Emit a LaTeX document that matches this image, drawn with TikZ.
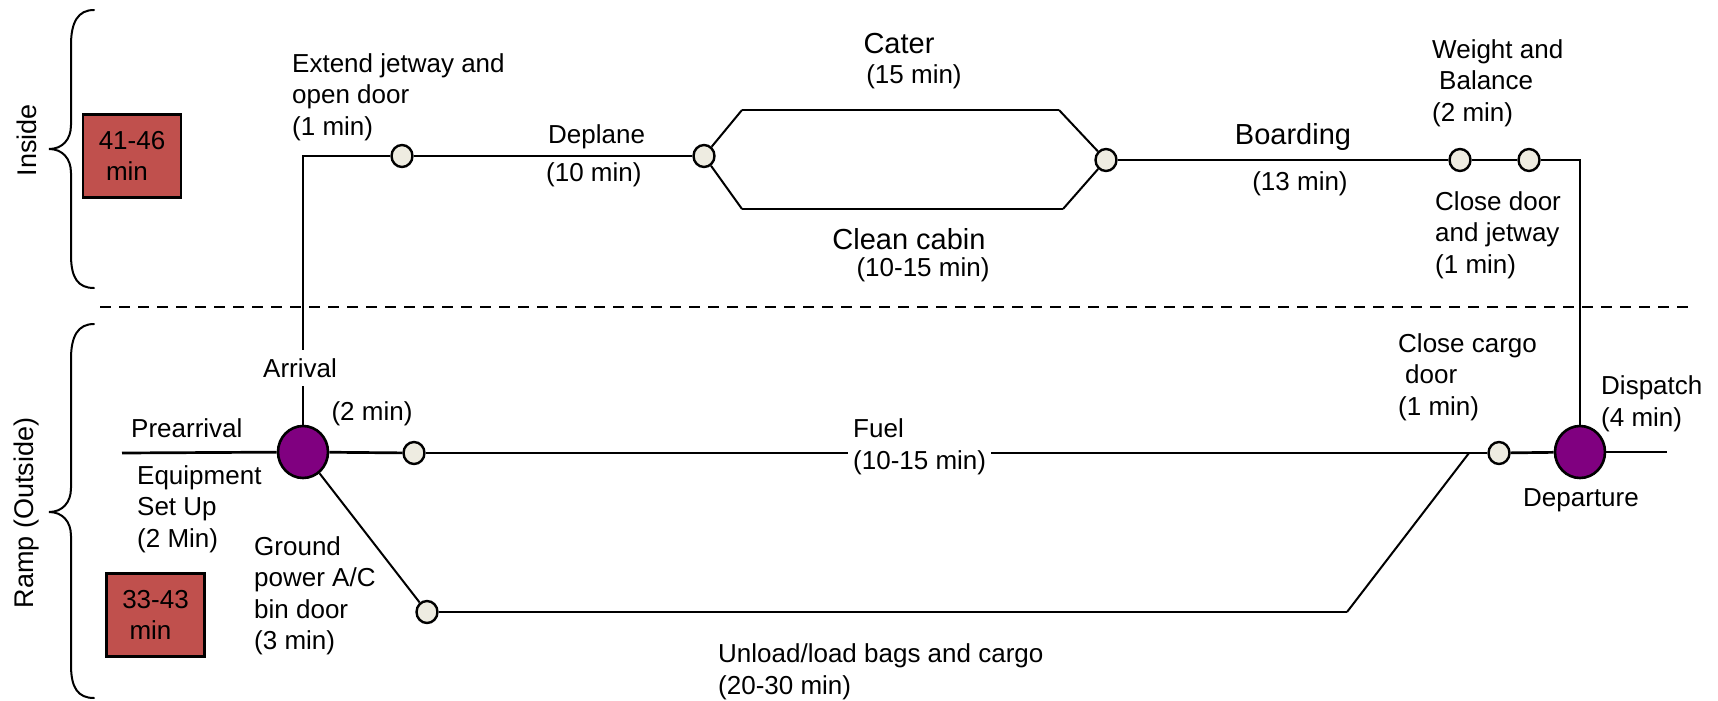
\documentclass[tikz,border=0pt]{standalone}
\usepackage{fontspec}
\setmainfont{Liberation Sans}
\usetikzlibrary{shapes.geometric}
\definecolor{boxred}{RGB}{192,80,77}
\definecolor{evpurple}{RGB}{128,0,128}
\definecolor{evcream}{RGB}{238,236,225}

\begin{document}
\begin{tikzpicture}[x=1pt,y=-1pt,
  txt/.style={font=\fontsize{26}{31.5}\selectfont, inner sep=0pt, align=left},
  ttl/.style={font=\fontsize{29}{34}\selectfont, inner sep=0pt},
  milestone/.style={ellipse, draw=black, line width=2.4pt, fill=evcream,
    minimum width=21pt, minimum height=22pt, inner sep=0pt},
  bigevent/.style={ellipse, draw=black, line width=2.6pt, fill=evpurple,
    minimum width=50pt, minimum height=52pt, inner sep=0pt},
  track/.style={line width=2.7pt},
  branch/.style={line width=2.0pt},
  bracket/.style={line width=2pt, line cap=round},
  durbox/.style={rectangle, draw=black, line width=2.2pt, fill=boxred,
    minimum width=98pt, minimum height=83pt, inner sep=0pt, align=center,
    font=\fontsize{26}{30.5}\selectfont},
  section/.style={font=\fontsize{27}{32}\selectfont, rotate=90, inner sep=0pt}
]
\useasboundingbox (0,0) rectangle (1718,701);

% ---- section braces and headings ----
\draw[bracket] (94,10) .. controls (78,10) and (71,22) .. (71,45) -- (71,125)
  .. controls (71,140) and (62,149) .. (49,149)
  .. controls (62,149) and (71,158) .. (71,173) -- (71,255)
  .. controls (71,278) and (78,288) .. (94,288);
\draw[bracket] (94,324) .. controls (78,324) and (71,336) .. (71,359) -- (71,488)
  .. controls (71,503) and (62,512) .. (49,512)
  .. controls (62,512) and (71,521) .. (71,536) -- (71,665)
  .. controls (71,688) and (78,698) .. (94,698);
\node[section] (inside) at (27,140) {Inside};
\node[section] (ramp) at (27,513) {Ramp (Outside)};

\node[durbox] (tin) at (132,156) {41-46\\min\kern10pt};
\node[durbox] (tout) at (155.5,615) {33-43\\min\kern10pt};

% ---- divider between inside and ramp ----
\draw[line width=2pt, dash pattern=on 11pt off 8pt] (100,307) -- (1688,307);

% ---- events ----
\node[milestone] (ej) at (402,156) {};
\node[milestone] (dp) at (704,156) {};
\node[milestone] (bd) at (1106,160) {};
\node[milestone] (wb) at (1460,160) {};
\node[milestone] (cd) at (1529,160) {};
\node[bigevent] (arr) at (303,452) {};
\node[milestone] (fu) at (414,453) {};
\node[milestone] (gp) at (427,612) {};
\node[milestone] (cc) at (1499,453) {};
\node[bigevent] (dep) at (1580,452) {};

\coordinate (pre) at (122,453);
\coordinate (fin) at (1667,452);
\coordinate (ct1) at (742,110);
\coordinate (ct2) at (1059,110);
\coordinate (cb1) at (742,209);
\coordinate (cb2) at (1063,209);
\coordinate (gpend) at (1347,612);
\coordinate (ccjoin) at (1469,453);

% ---- activity lines ----
\draw[track] (arr) |- (ej);
\draw[track] (ej) -- (dp);
\draw[branch] (dp) -- (ct1);
\draw[track] (ct1) -- (ct2);
\draw[branch] (ct2) -- (bd);
\draw[branch] (dp) -- (cb1);
\draw[track] (cb1) -- (cb2);
\draw[branch] (cb2) -- (bd);
\draw[track] (bd) -- (wb);
\draw[track] (wb) -- (cd);
\draw[track] (cd) -| (dep);
\draw[track] (pre) -- (arr);
\draw[track] (arr) -- (fu);
\draw[track] (fu) -- (cc);
\draw[track] (cc) -- (dep);
\draw[track] (dep) -- (fin);
\draw[branch] (arr) -- (gp);
\draw[track] (gp) -- (gpend);
\draw[branch] (gpend) -- (ccjoin);

% ---- labels ----
\node[txt, anchor=west] (lej) at (292,97) {Extend jetway and\\open door\\(1 min)};
\node[txt, anchor=west] (ldp) at (548,137) {Deplane};
\node[txt, anchor=west] (ldpt) at (546,175) {(10 min)};
\node[ttl] (lcat) at (899,44) {Cater};
\node[txt] (lcatt) at (914,77) {(15 min)};
\node[ttl] (lcln) at (909,239) {Clean cabin};
\node[txt] (lclnt) at (923,270) {(10-15 min)};
\node[ttl] (lbd) at (1293,137) {Boarding};
\node[txt] (lbdt) at (1300,184) {(13 min)};
\node[txt, anchor=west] (lwb) at (1432,83) {Weight and\\\hspace{7pt}Balance\\(2 min)};
\node[txt, anchor=west] (lcd) at (1435,235) {Close door\\and jetway\\(1 min)};
\node[txt, fill=white, inner xsep=3pt, inner ysep=8pt] (larr) at (300,368) {Arrival};
\node[txt] (larrt) at (372,414) {(2 min)};
\node[txt, anchor=west] (lpre) at (131,428) {Prearrival};
\node[txt, anchor=west] (leq) at (137,509) {Equipment\\Set Up\\(2 Min)};
\node[txt, anchor=west] (lgp) at (254,596) {Ground\\power A/C\\bin door\\(3 min)};
\node[txt, anchor=west, fill=white, inner xsep=5pt, inner ysep=2pt] (lfu) at (848,447) {Fuel\\(10-15 min)};
\node[txt, anchor=west] (lul) at (718,672) {Unload/load bags and cargo\\(20-30 min)};
\node[txt, anchor=west] (lcc) at (1398,377) {Close cargo\\\hspace{7pt}door\\(1 min)};
\node[txt, anchor=west] (ldsp) at (1601,404) {Dispatch\\(4 min)};
\node[txt] (ldep) at (1581,500) {Departure};
\end{tikzpicture}
\end{document}
